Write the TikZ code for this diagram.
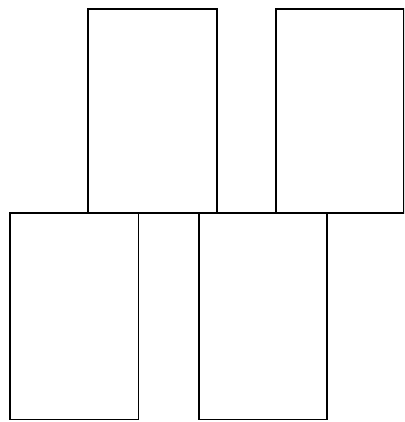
\documentclass[tikz,border=0pt]{standalone}
\begin{document}
\begin{tikzpicture}[x=1pt,y=-1pt,
  card/.style={draw=black, line width=1.3pt, fill=white, inner sep=0pt, outer sep=0pt, anchor=north west}]
\useasboundingbox (0,0) rectangle (404,422);
\clip (0,0) rectangle (404,422);
\fill[white] (0,0) rectangle (404,422);
\node[card, minimum width=129pt, minimum height=204pt] (tl) at (88,9) {};
\node[card, minimum width=128pt, minimum height=204pt] (tr) at (276,9) {};
\node[card, minimum width=128.5pt, minimum height=206.5pt] (bl) at (10,213) {};
\node[card, minimum width=128pt, minimum height=206.5pt] (bm) at (199,213) {};
\draw[line width=1.3pt] (tl.south west) -- (404,213);
\end{tikzpicture}
\end{document}
